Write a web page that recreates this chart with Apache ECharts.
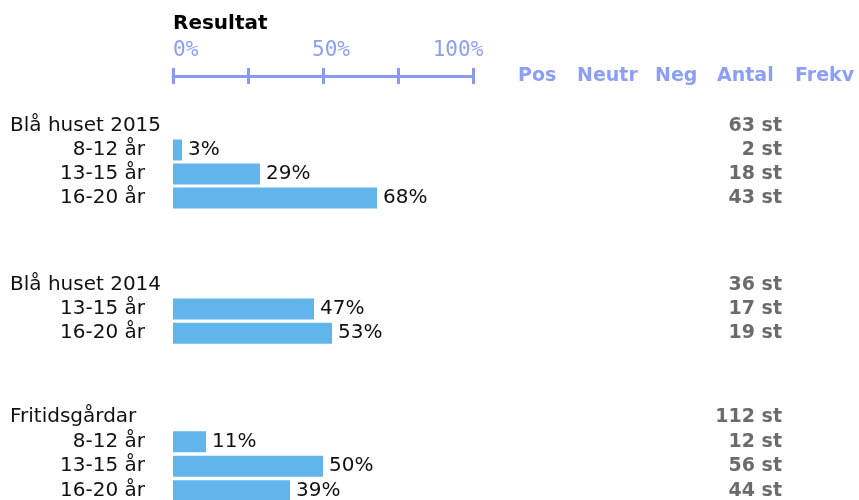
<!DOCTYPE html>
<html>
<head>
<meta charset="utf-8">
<title>Resultat</title>
<script src="https://cdn.jsdelivr.net/npm/echarts@6/dist/echarts.min.js"></script>
<style>
  html, body { margin: 0; padding: 0; background: #fff; }
  #main { width: 859px; height: 500px; }
</style>
</head>
<body>
<div id="main"></div>
<script>
// data
var groups = ['Blå huset 2015', 'Blå huset 2014', 'Fritidsgårdar'];
var ageLabels = [
    ['8-12 år', '13-15 år', '16-20 år'],
    ['13-15 år', '16-20 år'],
    ['8-12 år', '13-15 år', '16-20 år']
];
var shares = [
    [3, 29, 68],
    [47, 53],
    [11, 50, 39]
];
var totals = [63, 36, 112];
var counts = [
    [2, 18, 43],
    [17, 19],
    [12, 56, 44]
];
var scaleTicks = [0, 50, 100];
var columnHeads = ['Pos', 'Neutr', 'Neg', 'Antal', 'Frekv'];

var font = 'Verdana, "DejaVu Sans", sans-serif';
var axisColor = '#8a9af3';
var headColor = '#8c9ef7';
var barColor = '#62b5ea';

// layout of the table
var plotLeft = 173;
var plotWidth = 300;
var groupTops = [114, 272.5, 405];
var rowHeights = [24, 24.3, 24.5];
var headX = [518, 577, 655, 717, 795];

var grids = [{ left: plotLeft, width: plotWidth, top: 76, height: 10, outerBoundsMode: 'none' }];
var xAxes = [];
var yAxes = [{ gridIndex: 0, type: 'category', data: [''], show: false }];
var series = [];

// top scale: two axes on the same line, one with ticks up and one with ticks down
var scaleBase = {
    gridIndex: 0,
    type: 'value',
    position: 'top',
    min: 0,
    max: 100,
    interval: 25,
    splitLine: { show: false }
};
xAxes.push(Object.assign({}, scaleBase, {
    axisLine: { show: true, lineStyle: { color: axisColor, width: 3 } },
    axisTick: { show: true, length: 8, lineStyle: { color: axisColor, width: 3 } },
    axisLabel: {
        margin: 15,
        alignMinLabel: 'left',
        formatter: function (v) {
            if (scaleTicks.indexOf(v) < 0) return '';
            if (v === 0) return '{a|' + v + '%}';
            if (v === 50) return '{b|' + v + '%}';
            return '{c|' + v + '%}';
        },
        rich: {
            a: { fontFamily: '"DejaVu Sans Mono", monospace', fontSize: 21, color: headColor },
            b: { fontFamily: '"DejaVu Sans Mono", monospace', fontSize: 21, color: headColor, padding: [0, 0, 0, 16] },
            c: { fontFamily: '"DejaVu Sans Mono", monospace', fontSize: 21, color: headColor, padding: [0, 30, 0, 0] }
        }
    }
}));
xAxes.push(Object.assign({}, scaleBase, {
    axisLine: { show: false },
    axisTick: { show: true, inside: true, length: 8, lineStyle: { color: axisColor, width: 3 } },
    axisLabel: { show: false }
}));

groups.forEach(function (g, i) {
    var rows = [g].concat(ageLabels[i]);
    var gridIndex = i + 1;
    grids.push({
        left: plotLeft,
        width: plotWidth,
        top: groupTops[i],
        height: rows.length * rowHeights[i],
        outerBoundsMode: 'none'
    });
    xAxes.push({
        gridIndex: gridIndex,
        type: 'value',
        min: 0,
        max: 100,
        show: false
    });
    var base = {
        gridIndex: gridIndex,
        type: 'category',
        inverse: true,
        data: rows,
        axisLine: { show: false },
        axisTick: { show: false },
        splitLine: { show: false }
    };
    var ageAxis = yAxes.length;
    // age rows, right aligned next to the bars
    yAxes.push(Object.assign({}, base, {
        position: 'left',
        axisLabel: {
            interval: 0, margin: 28, align: 'right',
            fontFamily: font, fontSize: 20, color: '#111',
            formatter: function (v, idx) { return idx === 0 ? '' : v; }
        }
    }));
    // group heading, left aligned at the page edge
    yAxes.push(Object.assign({}, base, {
        position: 'left',
        axisLabel: {
            interval: 0, margin: plotLeft - 10, align: 'left',
            fontFamily: font, fontSize: 20, color: '#111',
            formatter: function (v, idx) { return idx === 0 ? v : ''; }
        }
    }));
    // Antal column
    var antal = [totals[i] + ' st'].concat(counts[i].map(function (c) { return c + ' st'; }));
    yAxes.push(Object.assign({}, base, {
        position: 'right',
        data: antal,
        axisLabel: {
            interval: 0, margin: 782 - plotLeft - plotWidth, align: 'right',
            fontFamily: font, fontSize: 19, fontWeight: 'bold', color: '#6b6b6b'
        }
    }));
    series.push({
        type: 'bar',
        xAxisIndex: i + 2,
        yAxisIndex: ageAxis,
        barWidth: 21,
        silent: true,
        itemStyle: { color: barColor },
        label: {
            show: true,
            position: 'right',
            distance: 6,
            formatter: '{c}%',
            fontFamily: font,
            fontSize: 20,
            color: '#111'
        },
        data: ['-'].concat(shares[i])
    });
});

var graphics = [{
    type: 'text',
    left: plotLeft,
    top: 14,
    style: { text: 'Resultat', font: 'bold 20px ' + font, fill: '#000' }
}];
columnHeads.forEach(function (h, i) {
    graphics.push({
        type: 'text',
        x: headX[i],
        y: 76,
        style: { text: h, font: 'bold 19px ' + font, fill: headColor, verticalAlign: 'middle' }
    });
});

var myChart = echarts.init(document.getElementById('main'));
myChart.setOption({
    animation: false,
    grid: grids,
    xAxis: xAxes,
    yAxis: yAxes,
    graphic: graphics,
    series: series
});
</script>
</body>
</html>
